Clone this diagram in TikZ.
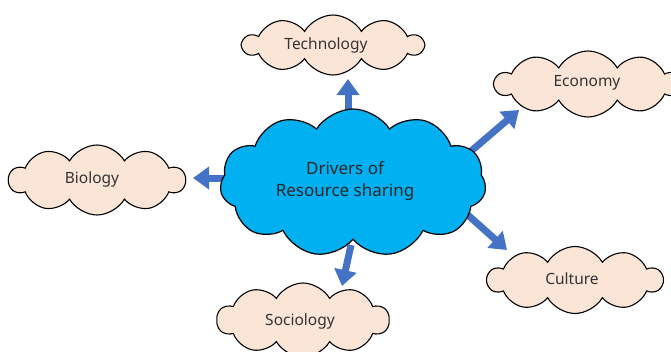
\documentclass[tikz,border=0pt]{standalone}
\usepackage{fontspec}
\setmainfont{Noto Sans}
\usetikzlibrary{shapes.symbols,arrows.meta}
\definecolor{mainblue}{HTML}{00B0F0}
\definecolor{peach}{HTML}{FBE5D6}
\definecolor{arrowblue}{HTML}{4472C4}
\begin{document}
\begin{tikzpicture}[x=1pt,y=-1pt,
  cloudbox/.style={cloud, cloud puffs=10, cloud puff arc=120, cloud ignores aspect,
     draw=black, line width=1.1pt, inner sep=0pt, fill=peach},
  mainbox/.style={cloud, cloud puffs=11, cloud puff arc=115, cloud ignores aspect,
     draw=black, line width=1.2pt, inner sep=0pt, fill=mainblue},
  smalltext/.style={font=\fontsize{15.5}{18}\selectfont, text=black!80},
  bigtext/.style={font=\fontsize{17}{22}\selectfont, align=center, text=black!85},
  bigarrow/.style={draw=arrowblue, line width=7pt,
     -{Triangle[width=22pt,length=16pt]}}]
\useasboundingbox (0,0) rectangle (671,351);
\clip (0,0) rectangle (671,351);
% arrow end points
\coordinate (tA) at (348,125);
\coordinate (tB) at (348,79);
\coordinate (eA) at (470,152);
\coordinate (eB) at (519,110);
\coordinate (bA) at (235,178);
\coordinate (bB) at (193,178);
\coordinate (cA) at (460,208);
\coordinate (cB) at (507,250);
\coordinate (sA) at (351,245);
\coordinate (sB) at (342,286);
\draw[bigarrow] (tA) -- (tB);
\draw[bigarrow] (eA) -- (eB);
\draw[bigarrow] (bA) -- (bB);
\draw[bigarrow] (cA) -- (cB);
\draw[bigarrow] (sA) -- (sB);
% clouds
\node[mainbox, minimum width=266pt, minimum height=148pt] (drv) at (353,183) {};
\node[bigtext] (drvt) at (345,181) {Drivers of\\Resource sharing};
\node[cloudbox, minimum width=180pt, minimum height=60pt] (tech) at (333,45) {};
\node[smalltext] (techt) at (326,45) {Technology};
\node[cloudbox, minimum width=186pt, minimum height=66pt] (eco) at (588,84) {};
\node[smalltext] (ecot) at (587,83) {Economy};
\node[cloudbox, minimum width=176pt, minimum height=70pt] (bio) at (97,180) {};
\node[smalltext] (biot) at (92,179) {Biology};
\node[cloudbox, minimum width=175pt, minimum height=67pt] (cul) at (575,280) {};
\node[smalltext] (cult) at (572,279) {Culture};
\node[cloudbox, minimum width=172pt, minimum height=74pt] (soc) at (303,320) {};
\node[smalltext] (soct) at (300,321) {Sociology};
\end{tikzpicture}
\end{document}
